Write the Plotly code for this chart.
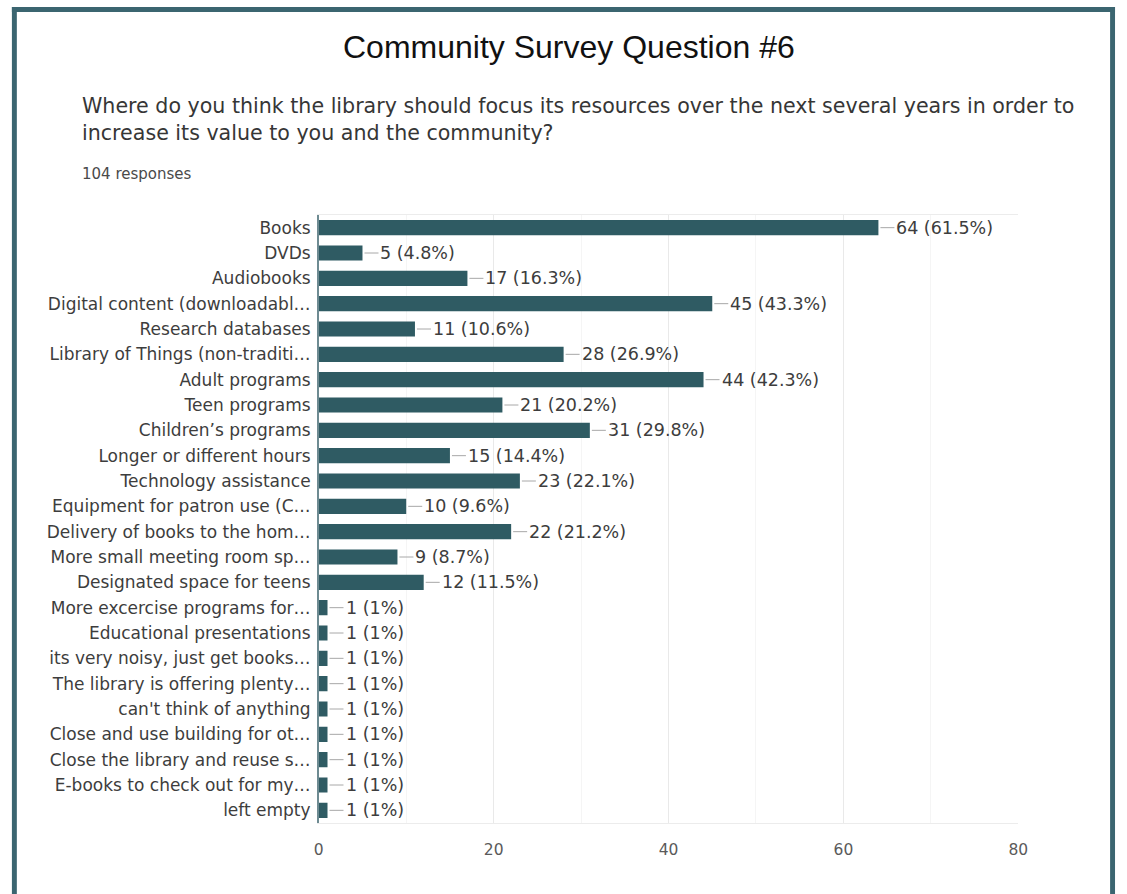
import plotly.graph_objects as go

W, H = 1127, 894

categories = [
    "Books",
    "DVDs",
    "Audiobooks",
    "Digital content (downloadabl…",
    "Research databases",
    "Library of Things (non-traditi…",
    "Adult programs",
    "Teen programs",
    "Children’s programs",
    "Longer or different hours",
    "Technology assistance",
    "Equipment for patron use (C…",
    "Delivery of books to the hom…",
    "More small meeting room sp…",
    "Designated space for teens",
    "More excercise programs for…",
    "Educational presentations",
    "its very noisy, just get books…",
    "The library is offering plenty…",
    "can't think of anything",
    "Close and use building for ot…",
    "Close the library and reuse s…",
    "E-books to check out for my…",
    "left empty",
]
counts = [64, 5, 17, 45, 11, 28, 44, 21, 31, 15, 23, 10, 22, 9, 12, 1, 1, 1, 1, 1, 1, 1, 1, 1]
percents = ["61.5%", "4.8%", "16.3%", "43.3%", "10.6%", "26.9%", "42.3%", "20.2%",
            "29.8%", "14.4%", "22.1%", "9.6%", "21.2%", "8.7%", "11.5%",
            "1%", "1%", "1%", "1%", "1%", "1%", "1%", "1%", "1%"]
x_ticks = [0, 20, 40, 60, 80]

title = "Community Survey Question #6"
question = ["Where do you think the library should focus its resources over the next several years in order to",
            "increase its value to you and the community?"]
responses = "104 responses"

BAR = "#2f5b63"
FRAME = "#3b6570"
TXT = "#3d3d3d"
FONT = "DejaVu Sans"


def px_x(p):
    return p / W


def px_y(p):
    return 1 - p / H


fig = go.Figure()
fig.add_trace(go.Bar(
    x=counts, y=categories, orientation="h",
    marker=dict(color=BAR, line=dict(width=0)),
    hoverinfo="skip",
))

annotations = []
for c, v, p in zip(categories, counts, percents):
    annotations.append(dict(
        x=v, y=c, xref="x", yref="y",
        text=f"{v} ({p})", showarrow=True, arrowhead=0, arrowwidth=1,
        arrowcolor="#a8a8a8", ax=16, ay=0, xanchor="left", standoff=2,
        font=dict(family=FONT, size=17.5, color=TXT),
    ))

annotations.append(dict(
    x=px_x(572), y=px_y(47), xref="paper", yref="paper", showarrow=False,
    text=title, font=dict(family="Liberation Sans, Arial", size=32, color="#111111"),
    xanchor="center", yanchor="middle",
))
for i, line in enumerate(question):
    annotations.append(dict(
        x=px_x(76), y=px_y(106 + 27 * i), xref="paper", yref="paper", showarrow=False,
        text=line, font=dict(family=FONT, size=20.6, color="#363636"),
        xanchor="left", yanchor="middle",
    ))
annotations.append(dict(
    x=px_x(76), y=px_y(174), xref="paper", yref="paper", showarrow=False,
    text=responses, font=dict(family=FONT, size=15, color="#4a4a4a"),
    xanchor="left", yanchor="middle",
))

shapes = [
    # page frame: top, left and right edges
    dict(type="rect", xref="paper", yref="paper", x0=px_x(7), x1=px_x(1125),
         y0=px_y(12), y1=px_y(7), fillcolor=FRAME, line=dict(width=0), layer="above"),
    dict(type="rect", xref="paper", yref="paper", x0=px_x(7), x1=px_x(12),
         y0=0, y1=px_y(7), fillcolor=FRAME, line=dict(width=0), layer="above"),
    dict(type="rect", xref="paper", yref="paper", x0=px_x(1120), x1=px_x(1125),
         y0=0, y1=px_y(7), fillcolor=FRAME, line=dict(width=0), layer="above"),
]

fig.update_layout(
    width=W, height=H,
    margin=dict(l=0, r=0, t=0, b=0),
    paper_bgcolor="white", plot_bgcolor="white",
    showlegend=False,
    bargap=0.4,
    annotations=annotations,
    shapes=shapes,
    xaxis=dict(
        domain=[px_x(318), px_x(1027)],
        range=[0, 80], tickvals=x_ticks, ticktext=[str(t) for t in x_ticks],
        showgrid=True, gridcolor="#e9e9e9", gridwidth=1,
        minor=dict(dtick=10, tick0=0, showgrid=True, gridcolor="#f5f5f5"),
        zeroline=False, showline=True, mirror=True, linecolor="#ececec", linewidth=1,
        ticks="outside", ticklen=12, tickcolor="rgba(0,0,0,0)",
        tickfont=dict(family=FONT, size=15.5, color="#5a5a5a"),
        fixedrange=True,
    ),
    yaxis=dict(
        domain=[px_y(823), px_y(215)],
        type="category", autorange="reversed",
        showgrid=False, zeroline=False,
        showline=True, linecolor="#6e8b92", linewidth=1.5,
        ticks="outside", ticklen=3, tickcolor="rgba(0,0,0,0)",
        tickfont=dict(family=FONT, size=17, color=TXT),
        fixedrange=True,
    ),
)

fig.write_html("out.html")
